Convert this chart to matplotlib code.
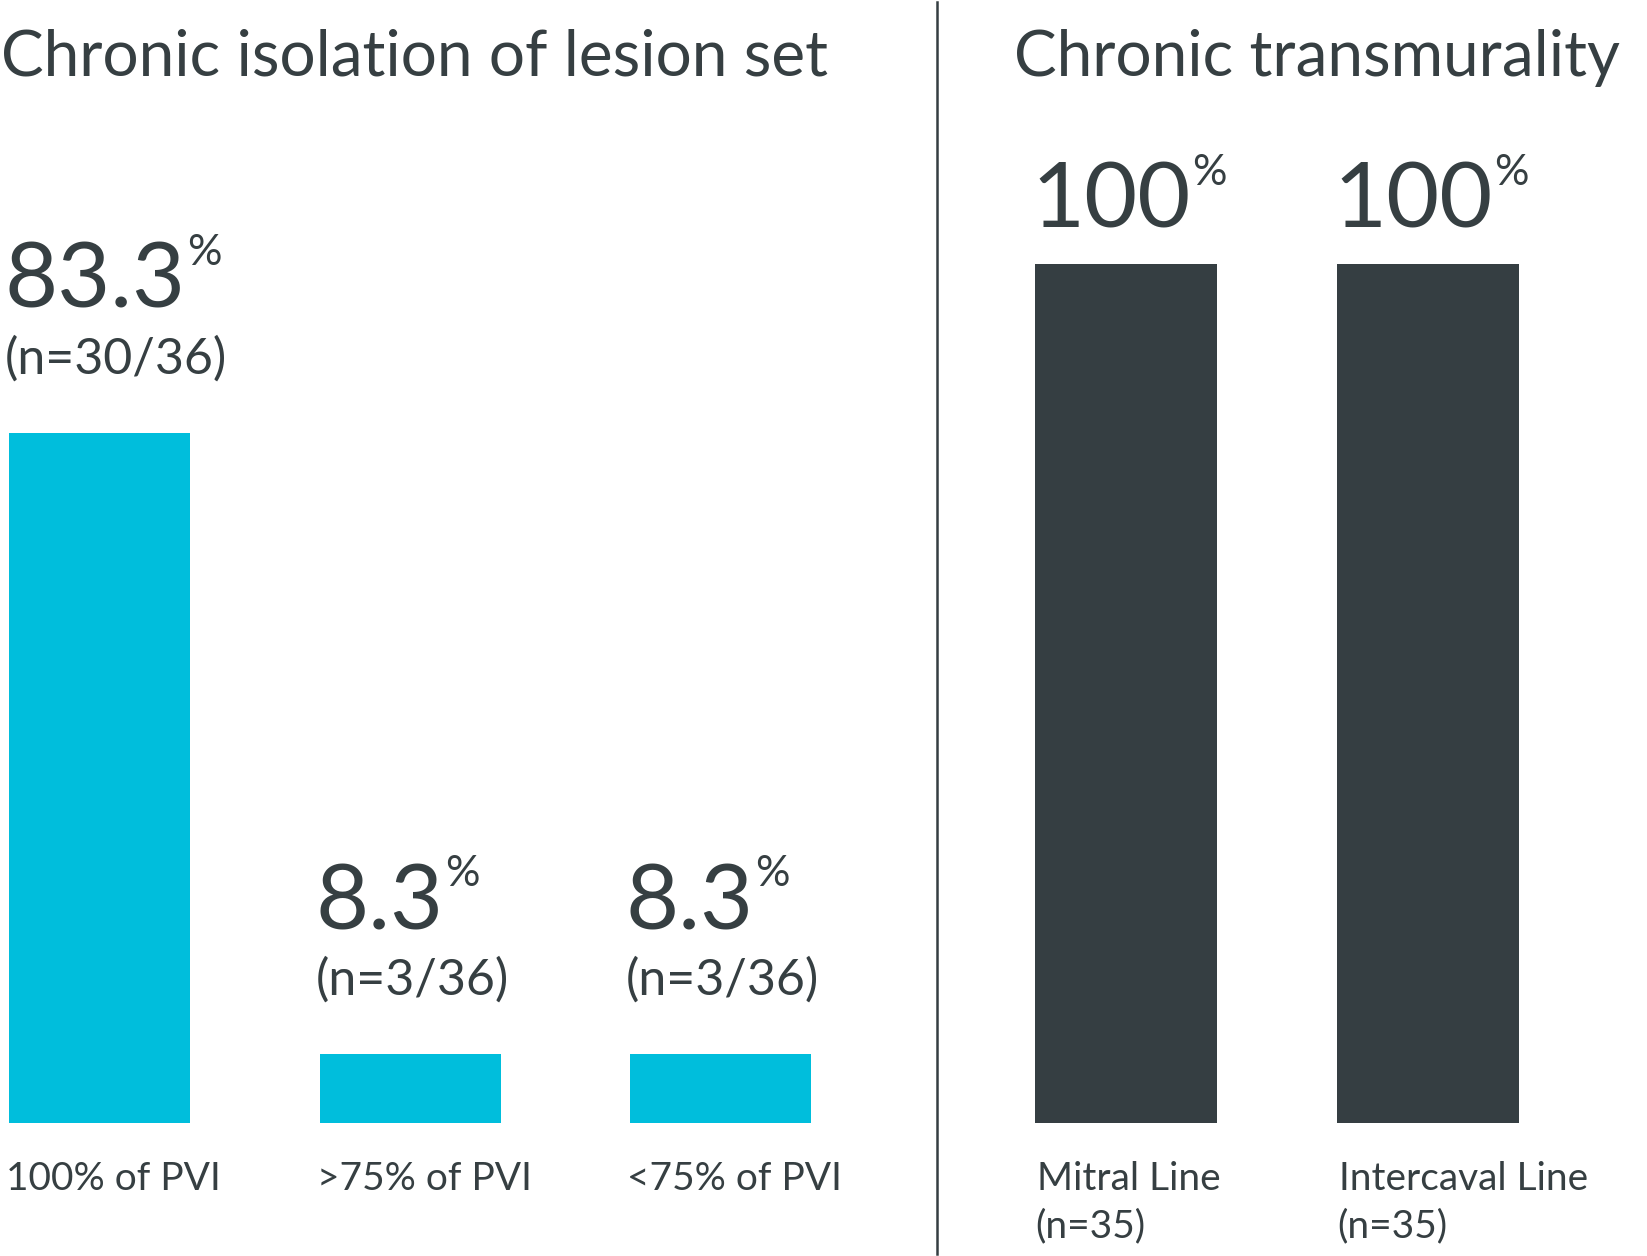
import matplotlib.pyplot as plt
from matplotlib.lines import Line2D

plt.rcParams['font.family'] = ['Lato', 'DejaVu Sans']

# data
iso_cats = ['100% of PVI', '>75% of PVI', '<75% of PVI']
iso_vals = [83.3, 8.3, 8.3]
iso_n = ['(n=30/36)', '(n=3/36)', '(n=3/36)']

trans_cats = ['Mitral Line', 'Intercaval Line']
trans_vals = [100, 100]
trans_n = ['(n=35)', '(n=35)']

cyan = '#00bedc'
dark = '#353e42'
txt = '#363f42'

W, H = 1647, 1256
fig = plt.figure(figsize=(W / 100, H / 100), dpi=100)

# axes placed in pixel terms
bot = (H - 1123) / H
hgt = 859 / H
ax1 = fig.add_axes([0, bot, 900 / W, hgt])
ax2 = fig.add_axes([960 / W, bot, 687 / W, hgt])

for ax in (ax1, ax2):
    ax.axis('off')


def value_label(ax, x, v, num, dy):
    t = ax.annotate(num, xy=(x, v), xytext=(-3, dy), textcoords='offset points',
                    ha='left', va='baseline', fontsize=66, color=txt)
    ax.annotate('%', xy=(1, 1), xycoords=t, xytext=(1, 5),
                textcoords='offset points', ha='left', va='top',
                fontsize=31, color=txt)
    return t


# left panel - chronic isolation
w1 = 0.583
x1 = list(range(len(iso_vals)))
ax1.bar(x1, iso_vals, width=w1, color=cyan)
ax1.set_xlim(-0.3205, 2.578)
ax1.set_ylim(0, 103.7)
for i, v in enumerate(iso_vals):
    left = x1[i] - w1 / 2
    value_label(ax1, left, v, f'{v:.1f}', 90)
    ax1.annotate(iso_n[i], xy=(left, v), xytext=(-3, 43), textcoords='offset points',
                 ha='left', va='baseline', fontsize=36, color=txt)
    ax1.annotate(iso_cats[i], xy=(left, 0), xytext=(-2, -48), textcoords='offset points',
                 ha='left', va='baseline', fontsize=28, color=txt)

# right panel - chronic transmurality
w2 = 0.6
x2 = list(range(len(trans_vals)))
ax2.bar(x2, trans_vals, width=w2, color=dark)
ax2.set_xlim(-0.5497, 1.725)
ax2.set_ylim(0, 100)
for i, v in enumerate(trans_vals):
    left = x2[i] - w2 / 2
    value_label(ax2, left, v, f'{v}', 26)
    ax2.annotate(trans_cats[i], xy=(left, 0), xytext=(1, -48), textcoords='offset points',
                 ha='left', va='baseline', fontsize=28, color=txt)
    ax2.annotate(trans_n[i], xy=(left, 0), xytext=(0, -82), textcoords='offset points',
                 ha='left', va='baseline', fontsize=28, color=txt)

# titles
fig.text(1 / W, (H - 76) / H, 'Chronic isolation of lesion set', ha='left',
         va='baseline', fontsize=46, color=txt)
fig.text(1014 / W, (H - 76) / H, 'Chronic transmurality', ha='left',
         va='baseline', fontsize=46, color=txt)

# divider
fig.add_artist(Line2D([937 / W, 937 / W], [2 / H, (H - 2) / H],
                      color=dark, linewidth=1.8, transform=fig.transFigure))

fig.savefig('out.png', dpi=100, facecolor='white')
